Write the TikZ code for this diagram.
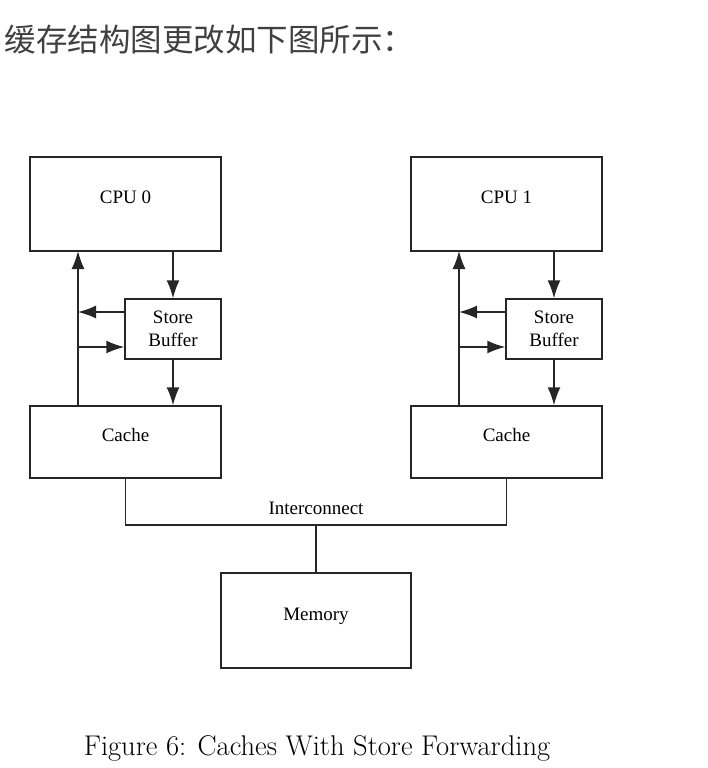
\documentclass[tikz,border=0pt]{standalone}
\usepackage{fontspec}
\newfontfamily\boxfont{Liberation Serif}
\newfontfamily\cjk{Noto Sans CJK SC}
\usetikzlibrary{arrows.meta,positioning,calc}

\begin{document}
\begin{tikzpicture}[x=1pt,y=-1pt,line width=1.5pt,draw=black!85,
  box/.style={draw,line width=1.5pt,inner sep=0pt,font=\boxfont\fontsize{19}{23}\selectfont,align=center},
  onebox/.style={box,text height=13pt,text depth=14pt},
  arr/.style={-{Latex[length=18pt,width=13pt]}}]
\useasboundingbox (0,0) rectangle (708,768);
\node[anchor=base west,inner sep=0pt,font=\cjk\fontsize{31.5}{36}\selectfont,text=black!75] (title) at (4,52) {缓存结构图更改如下图所示：};
\foreach \i/\off in {0/0,1/381} {
  \node[onebox,minimum width=191pt,minimum height=94pt] (cpu\i) at (125.5+\off,204) {CPU \i};
  \node[box,minimum width=96pt,minimum height=60pt] (sb\i) at (173+\off,329) {Store\\Buffer};
  \node[onebox,minimum width=191pt,minimum height=72pt] (cache\i) at (125.5+\off,442) {Cache};
  \coordinate (up\i) at (78+\off,251);
  \draw[arr] (cache\i.north -| up\i) -- (up\i);
  \draw[arr] (cpu\i.south -| sb\i.north) -- (sb\i.north);
  \draw[arr] (sb\i.south) -- (sb\i.south |- cache\i.north);
  \draw[arr] ($(sb\i.west)+(0,-17)$) -- ($(sb\i.west -| up\i)+(0,-17)$);
  \draw[arr] ($(sb\i.west -| up\i)+(0,18)$) -- ($(sb\i.west)+(0,18)$);
}
\node[onebox,minimum width=190pt,minimum height=95pt] (mem) at (316,620.5) {Memory};
\coordinate (ic) at (316,525);
\draw (cache0.south) |- (ic) node[above=6pt,font=\boxfont\fontsize{19}{23}\selectfont] (iclabel) {Interconnect} -| (cache1.south);
\draw (ic) -- (mem.north);
\node[anchor=base,font=\fontsize{28.5}{33}\selectfont] (caption) at (317,755) {Figure 6: Caches With Store Forwarding};
\end{tikzpicture}
\end{document}
